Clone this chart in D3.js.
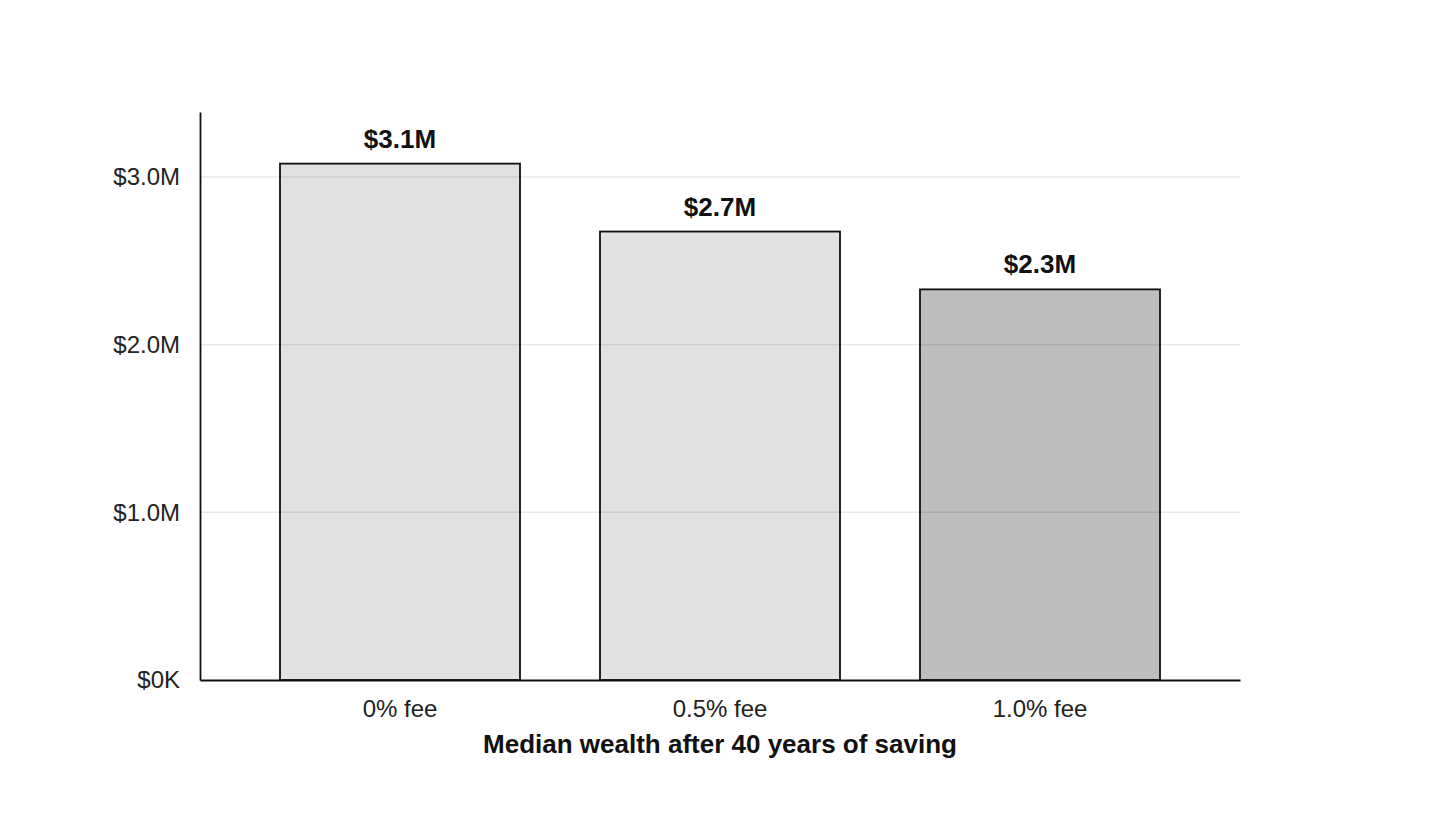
<!DOCTYPE html>
<html>
<head>
<meta charset="utf-8">
<script src="https://cdn.jsdelivr.net/npm/d3@7"></script>
<style>
  body { margin: 0; background: #fff; }
  svg { font-family: "Liberation Sans", Arial, sans-serif; }
</style>
</head>
<body>
<div id="chart"></div>
<script>
// data
const fees = ["0% fee", "0.5% fee", "1.0% fee"];
const wealth = [3.08e6, 2.675e6, 2.33e6];
const barLabels = ["$3.1M", "$2.7M", "$2.3M"];
const barFills = ["#e1e1e1", "#e1e1e1", "#bebebe"];
const yTicks = [0, 1e6, 2e6, 3e6];

const width = 1440, height = 840,
  margin = { top: 112, right: 200, bottom: 160, left: 200 };

const svg = d3.select("#chart").append("svg")
  .attr("width", width)
  .attr("height", height);

const x = d3.scaleBand()
  .domain(fees)
  .range([margin.left, width - margin.right])
  .padding(0.25);

const y = d3.scaleLinear()
  .domain([0, d3.max(wealth) * 1.1])
  .range([height - margin.bottom, margin.top]);

const fmt = v => v === 0 ? "$0K" : "$" + (v / 1e6).toFixed(1) + "M";

// bars
svg.selectAll("rect.bar")
  .data(fees)
  .join("rect")
  .attr("class", "bar")
  .attr("x", d => x(d))
  .attr("y", (d, i) => y(wealth[i]))
  .attr("width", x.bandwidth())
  .attr("height", (d, i) => y(0) - y(wealth[i]))
  .attr("fill", (d, i) => barFills[i])
  .attr("stroke", "#111")
  .attr("stroke-width", 1.8);

// gridlines (on top, faint)
svg.append("g")
  .selectAll("line")
  .data(yTicks.filter(d => d > 0))
  .join("line")
  .attr("x1", margin.left)
  .attr("x2", width - margin.right)
  .attr("y1", d => y(d))
  .attr("y2", d => y(d))
  .attr("stroke", "#000")
  .attr("stroke-opacity", 0.09)
  .attr("stroke-width", 1.5);

// y axis
const yAxis = svg.append("g")
  .attr("transform", `translate(${margin.left},0)`)
  .call(d3.axisLeft(y).tickValues(yTicks).tickFormat(fmt).tickSize(0).tickPadding(20));
yAxis.select(".domain").attr("stroke", "#111").attr("stroke-width", 1.8);
yAxis.selectAll("text").attr("font-size", 24).attr("fill", "#222")
  .attr("font-family", "Liberation Sans, Arial, sans-serif");

// x axis
const xAxis = svg.append("g")
  .attr("transform", `translate(0,${height - margin.bottom})`)
  .call(d3.axisBottom(x).tickSize(0).tickPadding(20));
xAxis.select(".domain").attr("stroke", "#111").attr("stroke-width", 1.8);
xAxis.selectAll("text").attr("font-size", 24).attr("fill", "#222")
  .attr("font-family", "Liberation Sans, Arial, sans-serif");

// value labels
svg.selectAll("text.val")
  .data(fees)
  .join("text")
  .attr("class", "val")
  .attr("x", d => x(d) + x.bandwidth() / 2)
  .attr("y", (d, i) => y(wealth[i]) - 16)
  .attr("text-anchor", "middle")
  .attr("font-size", 26)
  .attr("font-weight", "bold")
  .attr("fill", "#111")
  .text((d, i) => barLabels[i]);

// axis title
svg.append("text")
  .attr("x", (margin.left + width - margin.right) / 2)
  .attr("y", 753)
  .attr("text-anchor", "middle")
  .attr("font-size", 26)
  .attr("font-weight", "bold")
  .attr("fill", "#111")
  .text("Median wealth after 40 years of saving");
</script>
</body>
</html>
